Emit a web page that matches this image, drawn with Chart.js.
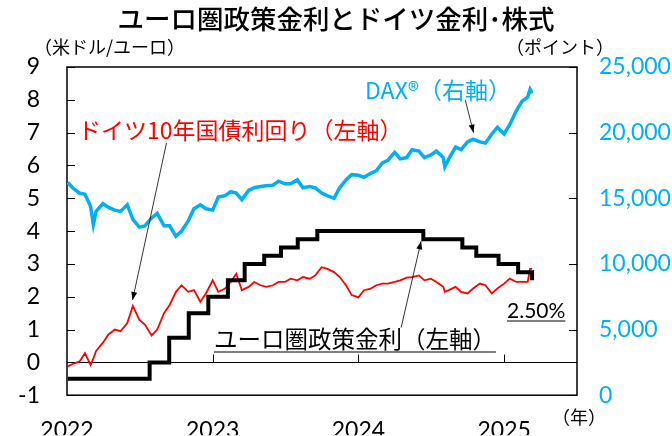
<!DOCTYPE html>
<html>
<head>
<meta charset="utf-8">
<script src="https://cdn.jsdelivr.net/npm/chart.js@4.4.1/dist/chart.umd.min.js"></script>
<style>
  body { margin: 0; background: #fff; }
  #wrap { width: 672px; height: 436px; position: relative; }
</style>
</head>
<body>
<div id="wrap"><canvas id="myChart"></canvas></div>
<script>
// semimonthly readings (German 10y yield %, DAX points)
const dates = [
  '2022-01-03','2022-01-15','2022-02-01','2022-02-15','2022-03-01','2022-03-08','2022-03-15',
  '2022-04-01','2022-04-15','2022-05-01','2022-05-15','2022-06-01','2022-06-15','2022-07-01','2022-07-15',
  '2022-08-01','2022-08-15','2022-09-01','2022-09-15','2022-10-01','2022-10-15','2022-11-01','2022-11-15',
  '2022-12-01','2022-12-15',
  '2023-01-01','2023-01-15','2023-02-01','2023-02-15','2023-03-01','2023-03-15','2023-04-01','2023-04-15',
  '2023-05-01','2023-05-15','2023-06-01','2023-06-15','2023-07-01','2023-07-15','2023-08-01','2023-08-15',
  '2023-09-01','2023-09-15','2023-10-01','2023-10-15','2023-11-01','2023-11-15','2023-12-01','2023-12-15',
  '2024-01-01','2024-01-15','2024-02-01','2024-02-15','2024-03-01','2024-03-15','2024-04-01','2024-04-15',
  '2024-05-01','2024-05-15','2024-06-01','2024-06-15','2024-07-01','2024-07-15','2024-08-01','2024-08-05',
  '2024-08-15','2024-09-01','2024-09-15','2024-10-01','2024-10-15','2024-11-01','2024-11-15','2024-12-01',
  '2024-12-15',
  '2025-01-01','2025-01-15','2025-02-01','2025-02-15','2025-03-01','2025-03-07','2025-03-12'
];
const yieldValues = [
  -0.12, -0.05, 0.02, 0.28, -0.08, 0.12, 0.35,
  0.6, 0.85, 1.0, 0.95, 1.2, 1.72, 1.3, 1.15,
  0.82, 1.0, 1.5, 1.75, 2.15, 2.35, 2.15, 2.2,
  1.85, 2.1,
  2.5, 2.15, 2.25, 2.45, 2.7, 2.2, 2.3, 2.45,
  2.35, 2.3, 2.35, 2.45, 2.45, 2.55, 2.5, 2.6,
  2.55, 2.65, 2.9, 2.85, 2.75, 2.6, 2.35, 2.05,
  1.98, 2.2, 2.25, 2.35, 2.4, 2.4, 2.45, 2.5,
  2.58, 2.6, 2.65, 2.5, 2.55, 2.45, 2.3, 2.15,
  2.2, 2.3, 2.15, 2.1, 2.25, 2.4, 2.35, 2.1,
  2.25,
  2.4, 2.55, 2.45, 2.45, 2.45, 2.85, 2.85
];
const daxValues = [
  16200, 15800, 15400, 15300, 14400, 13000, 14000,
  14600, 14300, 14100, 14000, 14500, 13400, 12800, 12900,
  13500, 13850, 12900, 12900, 12100, 12500, 13300, 14200,
  14500, 14200,
  14100, 15100, 15200, 15500, 15400, 14900, 15600, 15800,
  15900, 15950, 16000, 16300, 16100, 16100, 16400, 15800,
  15900, 15800, 15400, 15200, 15000, 15800, 16400, 16800,
  16750, 16600, 16900, 17100, 17700, 17900, 18500, 18000,
  18100, 18700, 18600, 18100, 18300, 18600, 18100, 17400,
  18000, 18900, 18700, 19300, 19500, 19300, 19200, 19900,
  20400,
  19900, 20600, 21700, 22400, 22700, 23300, 23000
];
// ECB deposit facility rate, change dates
const rateDates = [
  '2022-01-03','2022-07-27','2022-09-14','2022-11-02','2022-12-21','2023-02-08','2023-03-22',
  '2023-05-10','2023-06-21','2023-08-02','2023-09-20','2024-06-12','2024-09-18','2024-10-23',
  '2024-12-18','2025-02-05','2025-03-12'
];
const rateValues = [-0.5, 0, 0.75, 1.5, 2.0, 2.5, 3.0, 3.25, 3.5, 3.75, 4.0, 3.75, 3.5, 3.25, 3.0, 2.75, 2.5];

const yearTicks = [2022, 2023, 2024, 2025];
const leftTicks = [-1, 0, 1, 2, 3, 4, 5, 6, 7, 8, 9];
const rightTicks = [0, 5000, 10000, 15000, 20000, 25000];

const CYAN = '#00B0F0';
const RED = '#FF0000';
const JP = '"Noto Sans CJK JP", "Noto Sans", sans-serif';
const NUM = 'Lato, "Noto Sans", sans-serif';

function toYear(s) {
  const d = new Date(s + 'T00:00:00Z');
  const y = d.getUTCFullYear();
  const a = Date.UTC(y, 0, 1), b = Date.UTC(y + 1, 0, 1);
  return y + (d - a) / (b - a);
}

const yieldPts = dates.map((d, i) => ({ x: toYear(d), y: yieldValues[i] }));
const daxPts = dates.map((d, i) => ({ x: toYear(d), y: daxValues[i] }));
const ratePts = rateDates.map((d, i) => ({ x: toYear(d), y: rateValues[i] }));

function line(ctx, x1, y1, x2, y2) {
  ctx.beginPath(); ctx.moveTo(x1, y1); ctx.lineTo(x2, y2); ctx.stroke();
}

function arrow(ctx, x1, y1, x2, y2) {
  ctx.save();
  ctx.strokeStyle = '#000'; ctx.fillStyle = '#000'; ctx.lineWidth = 0.8;
  line(ctx, x1, y1, x2, y2);
  const ang = Math.atan2(y2 - y1, x2 - x1), L = 8, W = 3;
  ctx.beginPath();
  ctx.moveTo(x2, y2);
  ctx.lineTo(x2 - L * Math.cos(ang) + W * Math.sin(ang), y2 - L * Math.sin(ang) - W * Math.cos(ang));
  ctx.lineTo(x2 - L * Math.cos(ang) - W * Math.sin(ang), y2 - L * Math.sin(ang) + W * Math.cos(ang));
  ctx.closePath(); ctx.fill();
  ctx.restore();
}

function label(ctx, text, x, y, font, color, align, underline) {
  ctx.save();
  ctx.font = font; ctx.fillStyle = color;
  ctx.textAlign = align || 'left'; ctx.textBaseline = 'middle';
  ctx.fillText(text, x, y);
  if (underline) {
    const w = ctx.measureText(text).width;
    ctx.strokeStyle = color; ctx.lineWidth = 1.2;
    line(ctx, x, underline, x + w, underline);
  }
  ctx.restore();
}

const decor = {
  id: 'decor',
  beforeDatasetsDraw(chart) {
    const { ctx, chartArea: a, scales } = chart;
    ctx.save();
    ctx.strokeStyle = '#000';
    ctx.lineWidth = 1;
    const y0 = Math.round(scales.y.getPixelForValue(0)) + 0.5;
    line(ctx, a.left, y0, a.right, y0);
    leftTicks.forEach(v => {
      const p = Math.round(scales.y.getPixelForValue(v)) + 0.5;
      line(ctx, a.left, p, a.left + 8, p);
    });
    rightTicks.forEach(v => {
      const p = Math.round(scales.y1.getPixelForValue(v)) + 0.5;
      line(ctx, a.right - 8, p, a.right, p);
    });
    yearTicks.slice(1).forEach(v => {
      const p = Math.round(scales.x.getPixelForValue(v)) + 0.5;
      line(ctx, p, y0, p, y0 - 8);
    });
    ctx.lineWidth = 1.5;
    ctx.strokeRect(a.left, a.top, a.right - a.left, a.bottom - a.top);
    ctx.restore();
  },
  afterDraw(chart) {
    const { ctx, scales } = chart;
    const X = v => scales.x.getPixelForValue(v);
    const Y = v => scales.y.getPixelForValue(v);
    const Y1 = v => scales.y1.getPixelForValue(v);

    label(ctx, 'ユーロ圏政策金利とドイツ金利･株式', 336, 19, '500 26.5px ' + JP, '#000', 'center');
    label(ctx, '（米ドル/ユーロ）', 34, 47, '18px ' + JP, '#000');
    label(ctx, '（ポイント）', 506, 47, '18px ' + JP, '#000');
    label(ctx, '（年）', 552, 417, '18px ' + JP, '#000');

    label(ctx, 'DAX®（右軸）', 365, 90, '23px ' + JP, CYAN);
    label(ctx, 'ドイツ10年国債利回り（左軸）', 78, 130, '23px ' + JP, RED);
    label(ctx, 'ユーロ圏政策金利（左軸）', 214, 339, '23.5px ' + JP, '#000', 'left', 352);
    label(ctx, '2.50%', 507, 311, '21px ' + NUM, '#000', 'left', 321);

    arrow(ctx, X(2022.683), Y(6.69), X(2022.45), Y(1.9));
    arrow(ctx, X(2024.733), Y1(22500), X(2024.79), Y1(20000));
    arrow(ctx, X(2024.293), Y(1.06), X(2024.43), Y(3.69));
  }
};

const ctx = document.getElementById('myChart');
const myChart = new Chart(ctx, {
  type: 'line',
  data: {
    datasets: [
      {
        label: 'ユーロ圏政策金利',
        data: ratePts,
        yAxisID: 'y',
        borderColor: '#000',
        borderWidth: 4,
        stepped: 'before',
        pointRadius: 0,
        order: 1
      },
      {
        label: 'ドイツ10年国債利回り',
        data: yieldPts,
        yAxisID: 'y',
        borderColor: RED,
        borderWidth: 1.8,
        pointRadius: 0,
        order: 2
      },
      {
        label: 'DAX',
        data: daxPts,
        yAxisID: 'y1',
        borderColor: CYAN,
        borderWidth: 3.5,
        pointRadius: 0,
        order: 3
      }
    ]
  },
  options: {
    responsive: true,
    maintainAspectRatio: false,
    animation: false,
    layout: { padding: { top: 67, left: 0, right: 0, bottom: 0 } },
    scales: {
      x: {
        type: 'linear',
        min: 2022,
        max: 2025.5,
        grid: { display: false, drawTicks: false },
        border: { display: false },
        afterFit: s => { s.height = 40; },
        afterBuildTicks: s => { s.ticks = yearTicks.map(v => ({ value: v })); },
        ticks: {
          autoSkip: false,
          maxRotation: 0,
          padding: 22,
          color: '#000',
          font: { family: NUM, size: 23 },
          callback: v => String(v)
        }
      },
      y: {
        position: 'left',
        min: -1,
        max: 9,
        grid: { display: false, drawTicks: false },
        border: { display: false },
        afterFit: s => { s.width = 67; },
        ticks: {
          stepSize: 1,
          padding: 27,
          color: '#000',
          font: { family: NUM, size: 23 }
        }
      },
      y1: {
        position: 'right',
        min: 0,
        max: 25000,
        grid: { display: false, drawTicks: false },
        border: { display: false },
        afterFit: s => { s.width = 95; },
        ticks: {
          stepSize: 5000,
          padding: 22,
          color: CYAN,
          font: { family: NUM, size: 23 },
          callback: v => v.toLocaleString('en-US')
        }
      }
    },
    plugins: {
      legend: { display: false },
      tooltip: { enabled: false }
    }
  },
  plugins: [decor]
});
</script>
</body>
</html>
